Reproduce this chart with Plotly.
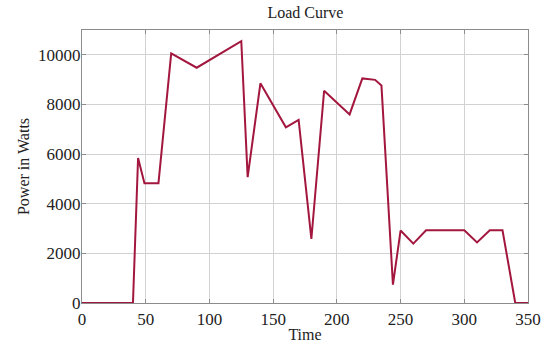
import plotly.graph_objects as go

# Load profile: time vs. power drawn (W)
time = [0, 40, 44, 49, 60, 70, 90, 125, 130, 140, 160, 170, 180, 190, 210,
        220, 230, 235, 244, 250, 260, 270, 300, 310, 320, 330, 340, 350]
power = [0, 0, 5840, 4830, 4830, 10060, 9480, 10550, 5070, 8850, 7080, 7380,
         2580, 8550, 7600, 9050, 8990, 8760, 740, 2920, 2390, 2930, 2930,
         2440, 2930, 2930, 0, 0]

x_ticks = [0, 50, 100, 150, 200, 250, 300, 350]
y_ticks = [0, 2000, 4000, 6000, 8000, 10000]
y_tick_text = ["0", "2000", "4000", "6000", "8000", "10000"]

serif = "Liberation Serif, Times New Roman, serif"
ink = "#222222"

fig = go.Figure(
    go.Scatter(
        x=time, y=power, mode="lines",
        line=dict(color="#a3173f", width=2),
        hoverinfo="skip",
    )
)

axis_common = dict(
    showgrid=True, gridcolor="#d2d2d2", gridwidth=1,
    showline=True, linecolor="#8c8c8c", linewidth=1, mirror="ticks",
    ticks="inside", ticklen=4, tickcolor="#8c8c8c",
    zeroline=False, automargin=False,
    tickfont=dict(family=serif, size=17, color=ink),
)

fig.update_layout(
    width=543, height=345,
    margin=dict(l=82, r=15, t=30, b=42),
    paper_bgcolor="white", plot_bgcolor="white",
    showlegend=False,
    title=dict(
        text="Load Curve", x=0.5625, xanchor="center", y=0.965, yanchor="middle",
        font=dict(family=serif, size=16, color=ink),
    ),
    xaxis=dict(
        axis_common, range=[0, 350], tickvals=x_ticks,
        ticklabelstandoff=1,
        title=dict(text="Time", font=dict(family=serif, size=16, color=ink),
                   standoff=0),
    ),
    yaxis=dict(
        axis_common, range=[0, 11000], tickvals=y_ticks, ticktext=y_tick_text,
        ticklabelstandoff=-3,
        title=dict(text="Power in Watts", font=dict(family=serif, size=16, color=ink),
                   standoff=4),
    ),
)

fig.write_html("out.html")
